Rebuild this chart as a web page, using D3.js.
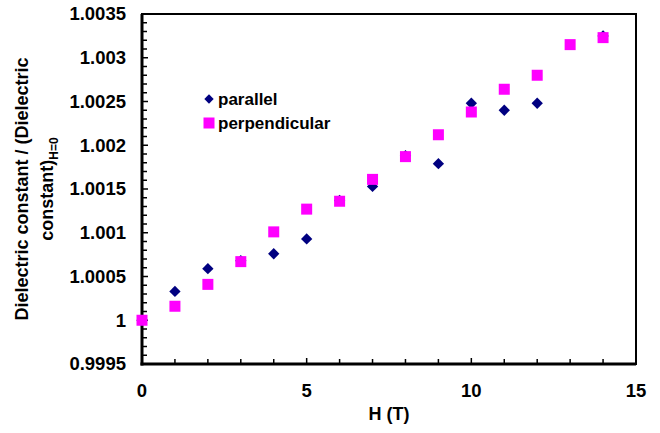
<!DOCTYPE html>
<html>
<head>
<meta charset="utf-8">
<script src="https://cdn.jsdelivr.net/npm/d3@7"></script>
<style>
  body { margin: 0; background: #fff; }
  text { font-family: "Liberation Sans", Arial, sans-serif; font-weight: bold; }
</style>
</head>
<body>
<svg id="chart"></svg>
<script>
// Data
const fieldH = [0, 1, 2, 3, 4, 5, 6, 7, 8, 9, 10, 11, 12, 13, 14];
const parallelH = [0, 1, 2, 3, 4, 5, 6, 7, 8, 9, 10, 11, 12, 14];
const parallelVals = [1.0, 1.00033, 1.00059, 1.00068, 1.00076, 1.00093, 1.00137, 1.00153, 1.00188, 1.00179, 1.00248, 1.0024, 1.00248, 1.00325];
const perpVals = [1.0, 1.00016, 1.00041, 1.00067, 1.00101, 1.00127, 1.00136, 1.00161, 1.00187, 1.00212, 1.00238, 1.00264, 1.0028, 1.00315, 1.00323];
const xTicks = [0, 5, 10, 15];
const yTicks = [0.9995, 1, 1.0005, 1.001, 1.0015, 1.002, 1.0025, 1.003, 1.0035];
const yTickLabels = ["0.9995", "1", "1.0005", "1.001", "1.0015", "1.002", "1.0025", "1.003", "1.0035"];

const width = 660, height = 433;
const plot = { left: 142, right: 636, top: 14, bottom: 364 };

const svg = d3.select("#chart")
    .attr("width", width)
    .attr("height", height);

const x = d3.scaleLinear().domain([0, 15]).range([plot.left, plot.right]);
const y = d3.scaleLinear().domain([0.9995, 1.0035]).range([plot.bottom, plot.top]);

// minor ticks (inside)
const xMinor = d3.range(0, 15.01, 1);
const yMinor = d3.range(0, 41).map(i => 0.9995 + i * 0.0001);

svg.append("g").selectAll("line")
    .data(xMinor)
    .enter().append("line")
    .attr("x1", d => x(d)).attr("x2", d => x(d))
    .attr("y1", plot.bottom).attr("y2", d => plot.bottom - (d % 5 === 0 ? 6 : 5))
    .attr("stroke", "black").attr("stroke-width", 1.5);

svg.append("g").selectAll("line")
    .data(yMinor)
    .enter().append("line")
    .attr("y1", d => y(d)).attr("y2", d => y(d))
    .attr("x1", plot.left).attr("x2", (d, i) => plot.left + (i % 5 === 0 ? 6 : 5))
    .attr("stroke", "black").attr("stroke-width", 1.5);

// frame
svg.append("rect")
    .attr("x", plot.left).attr("y", plot.top)
    .attr("width", plot.right - plot.left).attr("height", plot.bottom - plot.top)
    .attr("fill", "none").attr("stroke", "black").attr("stroke-width", 2);
svg.append("line")
    .attr("x1", plot.left).attr("x2", plot.left)
    .attr("y1", plot.top).attr("y2", plot.bottom + 1.5)
    .attr("stroke", "black").attr("stroke-width", 3);
svg.append("line")
    .attr("x1", plot.left - 1.5).attr("x2", plot.right)
    .attr("y1", plot.bottom).attr("y2", plot.bottom)
    .attr("stroke", "black").attr("stroke-width", 3);

// tick labels
svg.append("g").selectAll("text")
    .data(yTicks)
    .enter().append("text")
    .attr("x", plot.left - 16)
    .attr("y", d => y(d))
    .attr("dy", "0.35em")
    .attr("text-anchor", "end")
    .attr("font-size", 18.5)
    .text((d, i) => yTickLabels[i]);

svg.append("g").selectAll("text")
    .data(xTicks)
    .enter().append("text")
    .attr("x", d => x(d))
    .attr("y", plot.bottom + 33)
    .attr("text-anchor", "middle")
    .attr("font-size", 18.5)
    .text(d => d);

// axis titles
svg.append("text")
    .attr("x", (plot.left + plot.right) / 2)
    .attr("y", 420)
    .attr("text-anchor", "middle")
    .attr("font-size", 18)
    .text("H (T)");

const yTitle = svg.append("g")
    .attr("transform", `translate(0,${(plot.top + plot.bottom) / 2}) rotate(-90)`);
yTitle.append("text")
    .attr("x", 0).attr("y", 28)
    .attr("text-anchor", "middle")
    .attr("font-size", 18)
    .text("Dielectric constant / (Dielectric");
const t2 = yTitle.append("text")
    .attr("x", 0).attr("y", 53)
    .attr("text-anchor", "middle")
    .attr("font-size", 18);
t2.append("tspan").text("constant)");
t2.append("tspan").attr("font-size", 12).attr("dy", 5).text("H=0");

// series
const diamond = d3.symbol().type(d3.symbolSquare).size(64);
svg.append("g").selectAll("path")
    .data(parallelH.map((h, i) => [h, parallelVals[i]]))
    .enter().append("path")
    .attr("d", diamond)
    .attr("transform", d => `translate(${x(d[0])},${y(d[1])}) rotate(45)`)
    .attr("fill", "#000080");

svg.append("g").selectAll("rect")
    .data(fieldH.map((h, i) => [h, perpVals[i]]))
    .enter().append("rect")
    .attr("x", d => x(d[0]) - 5.5)
    .attr("y", d => y(d[1]) - 5.5)
    .attr("width", 11).attr("height", 11)
    .attr("fill", "#ff00ff");

// legend
const legend = svg.append("g").attr("transform", "translate(209,99)");
legend.append("path")
    .attr("d", d3.symbol().type(d3.symbolSquare).size(44))
    .attr("transform", "rotate(45)")
    .attr("fill", "#000080");
legend.append("text")
    .attr("x", 9).attr("y", 0).attr("dy", "0.35em")
    .attr("font-size", 17)
    .text("parallel");
legend.append("rect")
    .attr("x", -5.5).attr("y", 18.5).attr("width", 11).attr("height", 11)
    .attr("fill", "#ff00ff");
legend.append("text")
    .attr("x", 9).attr("y", 24).attr("dy", "0.35em")
    .attr("font-size", 17)
    .text("perpendicular");
</script>
</body>
</html>
